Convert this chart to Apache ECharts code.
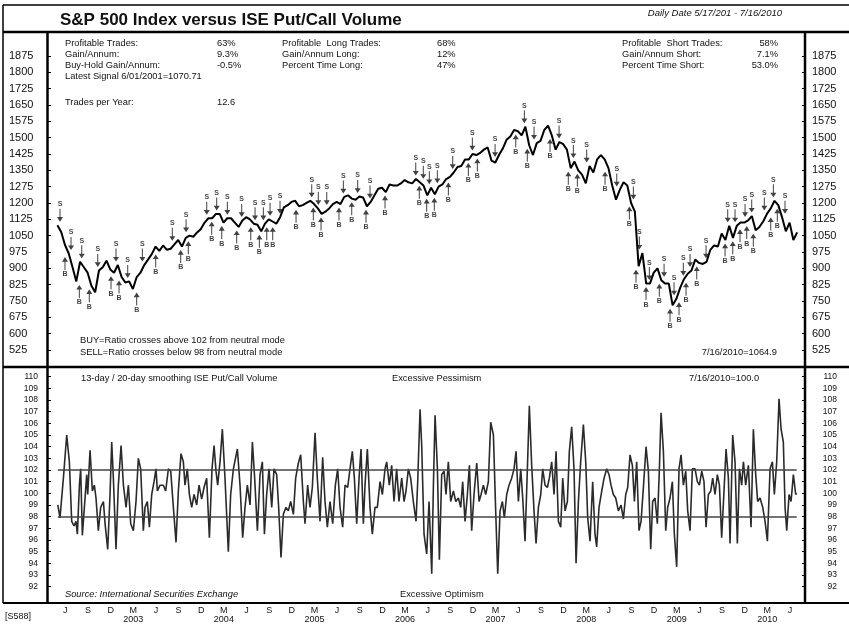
<!DOCTYPE html>
<html>
<head>
<meta charset="utf-8">
<title>S&amp;P 500 Index versus ISE Put/Call Volume</title>
<script src="https://cdn.jsdelivr.net/npm/echarts@6/dist/echarts.min.js"></script>
<style>
  html, body { margin: 0; padding: 0; background: #fff; }
  #chart { width: 849px; height: 629px; }
</style>
</head>
<body>
<div id="chart"></div>
<script>
// x values are months counted from 1 Jan 2002 (12 = 1 Jan 2003)
const priceStart = 4.5
const priceStep = 0.5
const priceValues = [
  1098, 1067, 1007, 968, 905, 840, 930, 905, 880, 820, 790, 890, 905, 935, 895,
  880, 915, 860, 835, 840, 805, 860, 880, 915, 940, 965, 1000, 980, 1005, 985, 990, 1010, 1030, 1000, 1040, 1050, 1045, 1065, 1080,
  1110, 1130, 1130, 1150, 1150, 1110, 1130, 1130, 1110, 1090, 1120, 1135, 1125, 1105, 1100, 1070, 1105, 1125, 1115, 1105, 1135, 1180, 1190, 1205,
  1210, 1185, 1190, 1200, 1210, 1195, 1175, 1150, 1160, 1175, 1195, 1205, 1195, 1228, 1235, 1220, 1215, 1230, 1225, 1185, 1205, 1235, 1265, 1270,
  1250, 1285, 1280, 1280, 1290, 1305, 1295, 1290, 1310, 1295, 1280, 1235, 1270, 1240, 1275, 1285, 1310, 1320, 1340, 1365, 1370, 1400, 1400, 1425,
  1420, 1430, 1445, 1455, 1395, 1385, 1420, 1450, 1490, 1505, 1535, 1530, 1510, 1550, 1465, 1420, 1475, 1485, 1535, 1555, 1510, 1445, 1480, 1470,
  1445, 1360, 1390, 1350, 1330, 1290, 1370, 1340, 1400, 1420, 1400, 1360, 1280, 1215, 1260, 1295, 1280, 1200, 1160, 910, 970, 830, 830, 880,
  900, 845, 830, 830, 730, 760, 810, 850, 875, 890, 940, 925, 920, 930, 985, 1005, 1000, 1060, 1030, 1095, 1040, 1095, 1110, 1110,
  1120, 1140, 1075, 1090, 1115, 1150, 1175, 1210, 1190, 1135, 1070, 1110, 1030, 1065
]

const oscMonths = [
  4.55, 4.84, 5.29, 5.73, 6.08, 6.39, 6.70, 6.96, 7.14, 7.41,
  7.58, 7.80, 8.07, 8.38, 8.51, 8.82, 9.13, 9.39, 9.61, 9.92,
  10.23, 10.59, 10.81, 11.16, 11.47, 11.69, 11.91, 12.26, 12.57, 12.93,
  13.24, 13.59, 13.90, 14.21, 14.56, 14.91, 15.22, 15.53, 15.88, 16.10,
  16.41, 16.68, 16.99, 17.30, 17.56, 17.74, 18.09, 18.53, 18.84, 19.20,
  19.51, 19.86, 20.21, 20.52, 20.87, 21.18, 21.40, 21.71, 21.98, 22.29,
  22.60, 22.95, 23.26, 23.61, 23.92, 24.27, 24.63, 24.98, 25.25, 25.51,
  25.73, 26.04, 26.35, 26.70, 27.14, 27.45, 27.81, 28.34, 28.69, 29.04,
  29.35, 29.66, 30.02, 30.33, 30.63, 30.99, 31.34, 31.65, 31.92, 32.22,
  32.53, 32.89, 33.19, 33.55, 33.81, 34.12, 34.43, 34.78, 35.09, 35.40,
  35.76, 36.06, 36.42, 36.73, 37.08, 37.30, 37.65, 37.96, 38.27, 38.63,
  38.93, 39.29, 39.64, 39.95, 40.26, 40.61, 40.97, 41.32, 41.63, 41.94,
  42.29, 42.60, 42.95, 43.26, 43.57, 43.84, 44.15, 44.46, 44.72, 45.03,
  45.25, 45.56, 45.91, 46.22, 46.57, 46.88, 47.24, 47.55, 47.90, 48.12,
  48.47, 48.78, 49.09, 49.44, 49.75, 50.11, 50.42, 50.68, 50.99, 51.30,
  51.65, 52.01, 52.23, 52.54,
  52.76, 53.07, 53.42, 53.73, 54.09, 54.31, 54.53, 54.84, 55.10, 55.41,
  55.72, 55.98, 56.29, 56.60, 56.96, 57.27, 57.62, 57.93, 58.19, 58.50,
  58.81, 59.08, 59.38, 59.69, 60.05, 60.36, 60.62, 60.93, 61.24, 61.59,
  61.90, 62.26, 62.56, 62.83, 63.14, 63.45, 63.71, 64.02, 64.33, 64.68,
  64.99, 65.26, 65.57, 65.88, 66.14, 66.45, 66.76, 67.02, 67.33, 67.64,
  67.91, 68.22, 68.53, 68.79, 69.10, 69.41, 69.67, 69.98, 70.29, 70.56,
  70.87, 71.18, 71.44, 71.75, 72.06, 72.32, 72.63, 72.94, 73.21, 73.52,
  73.82, 74.18, 74.49, 74.75, 75.06, 75.41, 75.72, 75.94, 76.25, 76.61,
  76.92, 77.27, 77.58, 77.84, 78.15, 78.46, 78.82, 79.17, 79.48, 79.79,
  80.05, 80.36, 80.67, 80.94, 81.24, 81.55, 81.82, 82.13, 82.48, 82.79,
  83.10, 83.36, 83.67, 83.98, 84.25, 84.47, 84.78, 85.09, 85.35, 85.66,
  85.97, 86.23, 86.54, 86.85, 87.12, 87.43, 87.74, 88.00, 88.31, 88.62,
  88.97, 89.28, 89.55, 89.86, 90.16, 90.43, 90.74, 91.05, 91.31, 91.62,
  91.93, 92.20, 92.50, 92.81, 93.08, 93.39, 93.61, 93.96, 94.27, 94.58,
  94.85, 95.15, 95.38, 95.68, 96.04, 96.39, 96.70, 97.01, 97.27, 97.58,
  97.94, 98.25, 98.56, 98.91, 99.22, 99.48, 99.79, 100.10, 100.37, 100.67,
  100.90, 101.12, 101.43, 101.69, 102.00, 102.31, 102.44
]
const oscValues = [
  99.0, 97.9, 101.3, 105.0, 102.7, 97.6, 97.2, 97.6, 96.5, 100.7,
  102.1, 96.4, 98.8, 101.6, 99.9, 103.7, 100.2, 100.7, 99.6, 96.8,
  98.8, 99.3, 97.4, 95.2, 99.9, 104.4, 101.3, 95.2, 100.7, 104.1,
  100.7, 98.8, 100.7, 97.4, 96.8, 99.3, 103.0, 102.1, 96.8, 98.8,
  99.3, 97.1, 99.9, 101.0, 102.1, 100.2, 100.7, 100.7, 100.2, 102.1,
  101.9, 98.8, 95.8, 100.2, 103.4, 102.7, 100.7, 102.1, 99.9, 98.8,
  99.9, 99.0, 100.7, 99.5, 100.5, 101.3, 96.2, 102.1, 104.1, 101.9,
  100.7, 102.7, 105.5, 101.3, 95.0, 99.9, 102.1, 103.8, 100.7, 96.2,
  98.8, 100.7, 99.0, 104.4, 101.3, 96.8, 101.6, 102.7, 96.5, 99.9,
  102.1, 98.8, 102.1, 101.6, 98.8, 94.5, 98.2, 98.8, 98.5, 99.3,
  98.2, 101.3, 102.6, 103.3, 99.3, 97.4, 100.7, 98.8, 100.5, 105.2,
  101.3, 97.6, 103.1, 99.3, 97.1, 99.3, 97.4, 100.7, 102.1, 98.8,
  97.1, 100.7, 100.5, 102.1, 103.6, 101.3, 97.4, 101.3, 103.8, 97.4,
  100.7, 103.8, 98.8, 96.5, 98.8, 98.8, 101.0, 99.9, 102.1, 102.7,
  100.7, 102.4, 99.3, 102.1, 99.3, 101.3, 99.3, 100.2, 102.1, 101.3,
  99.3, 97.6, 101.0, 107.2,
  104.1, 96.5, 94.8, 99.3, 93.1, 100.7, 106.7, 102.1, 94.3, 101.6,
  101.9, 99.9, 102.7, 99.3, 100.2, 99.3, 99.6, 98.8, 101.0, 97.6,
  99.9, 102.4, 96.8, 99.9, 102.6, 99.3, 99.9, 100.7, 99.9, 101.0,
  106.1, 105.0, 98.5, 93.1, 98.5, 99.3, 97.9, 99.9, 100.7, 101.3,
  102.1, 103.6, 99.3, 102.1, 99.6, 95.9, 102.1, 107.5, 102.4, 98.5,
  95.7, 98.8, 99.9, 102.1, 100.7, 100.5, 101.3, 102.7, 99.9, 103.6,
  97.6, 97.1, 101.3, 98.5, 99.3, 103.6, 105.7, 102.1, 94.0, 99.3,
  102.7, 105.9, 102.7, 97.9, 95.9, 101.0, 96.5, 95.4, 98.8, 100.2,
  101.3, 102.1, 101.6, 100.7, 99.9, 99.6, 98.5, 99.0, 97.8, 99.9,
  100.5, 103.3, 102.4, 99.3, 102.7, 96.8, 97.6, 100.5, 104.0, 101.9,
  95.2, 99.3, 99.6, 97.4, 102.1, 106.9, 103.6, 96.8, 98.8, 99.6,
  101.0, 96.5, 93.7, 102.1, 103.3, 100.7, 101.9, 98.5, 96.8, 102.1,
  102.1, 101.0, 100.7, 101.9, 101.0, 97.1, 99.9, 100.2, 101.3, 99.9,
  101.6, 100.7, 96.2, 100.2, 103.8, 101.3, 95.7, 105.0, 102.7, 95.7,
  102.1, 100.7, 102.7, 100.7, 102.4, 97.1, 105.5, 101.6, 99.3, 99.6,
  98.8, 97.6, 95.9, 102.1, 102.7, 99.9, 102.7, 108.1, 105.5, 104.4,
  98.8, 96.8, 99.9, 99.3, 101.6, 99.9, 100.0
]

// signal dates (months from 1 Jan 2002)
const sellMonths = [
  4.84, 6.30, 7.72, 9.84, 12.26, 13.81, 15.75, 19.72, 21.54, 24.28,
  25.60, 27.01, 28.91, 30.68, 31.78, 32.67, 33.99, 38.19, 39.06, 40.18,
  42.38, 44.28, 45.91, 51.97, 52.97, 53.77, 54.83, 56.87, 59.47, 62.48,
  66.36, 67.64, 70.96, 72.85, 74.62, 78.60, 80.80, 81.59, 82.92, 84.87,
  86.19, 87.42, 88.31, 90.43, 93.30, 94.27, 95.60, 96.48, 98.15, 99.35,
  100.89
]
const buyMonths = [
  5.50, 7.40, 8.72, 11.60, 12.66, 15.00, 17.52, 20.83, 21.84, 24.94,
  26.27, 28.25, 30.11, 31.25, 32.23, 33.02, 36.11, 38.40, 39.42, 41.80,
  43.49, 45.38, 47.90, 52.44, 53.42, 54.43, 56.29, 58.94, 60.13, 65.22,
  66.75, 69.76, 72.18, 73.38, 77.05, 80.27, 81.15, 82.48, 84.24, 85.66,
  86.85, 87.78, 89.20, 92.95, 93.97, 94.93, 95.82, 96.69, 99.00, 99.87
]

const priceTicks = [525, 600, 675, 750, 825, 900, 975, 1050, 1125, 1200, 1275, 1350, 1425, 1500, 1575, 1650, 1725, 1800, 1875]
const oscTicks = [92, 93, 94, 95, 96, 97, 98, 99, 100, 101, 102, 103, 104, 105, 106, 107, 108, 109, 110]
const quarterMonths = [5, 8, 11, 14, 17, 20, 23, 26, 29, 32, 35, 38, 41, 44, 47, 50, 53, 56, 59, 62, 65, 68, 71, 74, 77, 80, 83, 86, 89, 92, 95, 98, 101]
const monthLetters = { 2: 'M', 5: 'J', 8: 'S', 11: 'D' }
const buyLevel = 102
const sellLevel = 98

const FONT = "'Liberation Sans', Arial, Helvetica, sans-serif"
const xMin = 3.25
const xMax = 103.54
const labelShift = 0.55

const priceData = priceValues.map((v, i) => [priceStart + i * priceStep, v])
const oscData = oscMonths.map((m, i) => [m, oscValues[i]])

function nearPrice(m, pick) {
  let best = null
  priceData.forEach(p => {
    if (Math.abs(p[0] - m) <= 0.5) best = best === null ? p[1] : pick(best, p[1])
  })
  return best
}

const sellData = sellMonths.map(m => [m, nearPrice(m, Math.max)])
const buyData = buyMonths.map(m => [m, nearPrice(m, Math.min)])

const downArrow = 'path://M2.5,0 L3.5,0 L3.5,9 L6,9 L3,14 L0,9 L2.5,9 Z'
const upArrow = 'path://M3,0 L6,5 L3.5,5 L3.5,14 L2.5,14 L2.5,5 L0,5 Z'

function hline(x1, y1, x2, y2, w) {
  return { type: 'line', silent: true, z: 50, shape: { x1, y1, x2, y2 }, style: { stroke: '#000', lineWidth: w } }
}
function txt(x, y, text, opts = {}) {
  return {
    type: 'text', silent: true, z: 60, x, y,
    style: {
      text,
      font: (opts.font || '9.3px') + ' ' + FONT,
      fill: '#111',
      textAlign: opts.align || 'left',
      textVerticalAlign: 'middle'
    }
  }
}
const plain = v => String(v)

const chart = echarts.init(document.getElementById('chart'), null, { renderer: 'canvas' })

chart.setOption({
  animation: false,
  backgroundColor: '#fff',
  grid: [
    { left: 48, right: 44, top: 32, height: 335 },
    { left: 48, right: 44, top: 367, height: 236 }
  ],
  xAxis: [
    {
      type: 'value', gridIndex: 0, min: xMin, max: xMax,
      axisLine: { show: false }, axisTick: { show: false }, axisLabel: { show: false }, splitLine: { show: false }
    },
    {
      type: 'value', gridIndex: 1, min: xMin, max: xMax, position: 'bottom',
      axisLine: { show: false }, axisTick: { show: false }, splitLine: { show: false },
      axisLabel: {
        customValues: quarterMonths.map(m => m + labelShift),
        margin: 3,
        fontFamily: FONT,
        fontSize: 9,
        lineHeight: 9,
        color: '#111',
        formatter: function(v) {
          const m = Math.round(v - labelShift)
          const letter = monthLetters[m % 12]
          if (letter === 'M') {
            return letter + '\n' + (2002 + Math.floor(m / 12))
          }
          return letter
        }
      }
    }
  ],
  yAxis: [
    {
      type: 'value', gridIndex: 0, position: 'left', min: 447, max: 1985,
      axisLine: { show: false }, splitLine: { show: false },
      axisTick: { customValues: priceTicks, inside: true, length: 3, lineStyle: { color: '#000' } },
      axisLabel: { customValues: priceTicks, formatter: plain, align: 'left', margin: 39, fontFamily: FONT, fontSize: 11, color: '#111' }
    },
    {
      type: 'value', gridIndex: 0, position: 'right', min: 447, max: 1985,
      axisLine: { show: false }, splitLine: { show: false },
      axisTick: { customValues: priceTicks, inside: true, length: 3, lineStyle: { color: '#000' } },
      axisLabel: { customValues: priceTicks, formatter: plain, align: 'left', margin: 7, fontFamily: FONT, fontSize: 11, color: '#111' }
    },
    {
      type: 'value', gridIndex: 1, position: 'left', min: 90.6, max: 110.83,
      axisLine: { show: false }, splitLine: { show: false },
      axisTick: { customValues: oscTicks, inside: true, length: 3, lineStyle: { color: '#000' } },
      axisLabel: { customValues: oscTicks, formatter: plain, align: 'right', margin: 10, fontFamily: FONT, fontSize: 8.5, color: '#111' }
    },
    {
      type: 'value', gridIndex: 1, position: 'right', min: 90.6, max: 110.83,
      axisLine: { show: false }, splitLine: { show: false },
      axisTick: { customValues: oscTicks, inside: true, length: 3, lineStyle: { color: '#000' } },
      axisLabel: { customValues: oscTicks, formatter: plain, align: 'right', margin: 32, fontFamily: FONT, fontSize: 8.5, color: '#111' }
    }
  ],
  series: [
    {
      name: 'S&P 500', type: 'line', xAxisIndex: 0, yAxisIndex: 0,
      data: priceData, showSymbol: false, silent: true,
      lineStyle: { color: '#000', width: 2 }
    },
    {
      name: 'Sell', type: 'scatter', xAxisIndex: 0, yAxisIndex: 0,
      data: sellData, symbol: downArrow, symbolSize: [6, 13], symbolOffset: [0, -10],
      itemStyle: { color: '#111' }, silent: true,
      label: { show: true, position: 'top', distance: 1, formatter: 'S', fontSize: 7, fontWeight: 'bold', fontFamily: FONT, color: '#111' }
    },
    {
      name: 'Buy', type: 'scatter', xAxisIndex: 0, yAxisIndex: 0,
      data: buyData, symbol: upArrow, symbolSize: [6, 13], symbolOffset: [0, 10],
      itemStyle: { color: '#111' }, silent: true,
      label: { show: true, position: 'bottom', distance: 1, formatter: 'B', fontSize: 7, fontWeight: 'bold', fontFamily: FONT, color: '#111' }
    },
    {
      name: 'Put/Call', type: 'line', xAxisIndex: 1, yAxisIndex: 2,
      data: oscData, showSymbol: false, silent: true,
      lineStyle: { color: '#2a2a2a', width: 1.6 },
      markLine: {
        silent: true, symbol: 'none', label: { show: false },
        lineStyle: { color: '#444', width: 1.6, type: 'solid' },
        data: [
          [{ coord: [oscMonths[0], buyLevel] }, { coord: [oscMonths[oscMonths.length - 1], buyLevel] }],
          [{ coord: [oscMonths[0], sellLevel] }, { coord: [oscMonths[oscMonths.length - 1], sellLevel] }]
        ]
      }
    }
  ],
  graphic: [
    // frame
    hline(3, 5, 849, 5, 1.5),
    hline(3, 5, 3, 603, 1.5),
    hline(3, 32, 849, 32, 2.5),
    hline(3, 367, 849, 367, 2.5),
    hline(3, 603, 849, 603, 2),
    hline(47.5, 32, 47.5, 603, 2.5),
    hline(805, 32, 805, 603, 2.5),
    // title row
    txt(60, 20, 'S&P 500 Index versus ISE Put/Call Volume', { font: 'bold 17px' }),
    txt(782, 13, 'Daily Date 5/17/201 - 7/16/2010', { font: 'italic 9.5px', align: 'right' }),
    // statistics
    txt(65, 43, 'Profitable Trades:'),
    txt(65, 54, 'Gain/Annum:'),
    txt(65, 65, 'Buy-Hold Gain/Annum:'),
    txt(65, 76, 'Latest Signal 6/01/2001=1070.71'),
    txt(65, 102, 'Trades per Year:'),
    txt(217, 43, '63%'),
    txt(217, 54, '9.3%'),
    txt(217, 65, '-0.5%'),
    txt(217, 102, '12.6'),
    txt(282, 43, 'Profitable  Long Trades:'),
    txt(282, 54, 'Gain/Annum Long:'),
    txt(282, 65, 'Percent Time Long:'),
    txt(437, 43, '68%'),
    txt(437, 54, '12%'),
    txt(437, 65, '47%'),
    txt(622, 43, 'Profitable  Short Trades:'),
    txt(622, 54, 'Gain/Annum Short:'),
    txt(622, 65, 'Percent Time Short:'),
    txt(778, 43, '58%', { align: 'right' }),
    txt(778, 54, '7.1%', { align: 'right' }),
    txt(778, 65, '53.0%', { align: 'right' }),
    txt(80, 340, 'BUY=Ratio crosses above 102 from neutral mode'),
    txt(80, 352, 'SELL=Ratio crosses below 98 from neutral mode'),
    txt(777, 352, '7/16/2010=1064.9', { align: 'right' }),
    // lower panel
    txt(81, 378, '13-day / 20-day smoothing ISE Put/Call Volume'),
    txt(392, 378, 'Excessive Pessimism'),
    txt(689, 378, '7/16/2010=100.0'),
    txt(65, 594, 'Source: International Securities Exchange', { font: 'italic 9.3px' }),
    txt(400, 594, 'Excessive Optimism'),
    txt(5, 617, '[S588]', { font: '9px' })
  ]
})
</script>
</body>
</html>
